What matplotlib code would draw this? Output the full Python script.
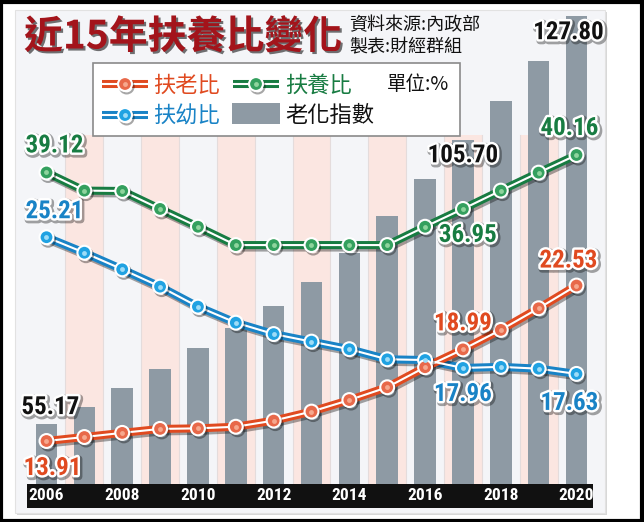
import matplotlib
matplotlib.use("Agg")
import matplotlib.pyplot as plt
import matplotlib.patheffects as pe
from matplotlib.patches import Rectangle

# data
years = list(range(2006, 2021))
aging_index = [55.17, 58.13, 61.51, 65.05, 68.64, 72.20, 76.21, 80.51,
               85.70, 92.18, 98.86, 105.70, 112.64, 119.82, 127.80]
elderly_ratio = [13.91, 14.13, 14.36, 14.58, 14.61, 14.70, 15.04, 15.54,
                 16.18, 16.89, 18.00, 18.99, 20.07, 21.27, 22.53]
youth_ratio = [25.21, 24.35, 23.43, 22.47, 21.36, 20.47, 19.84, 19.42,
               19.00, 18.44, 18.40, 17.96, 18.02, 17.92, 17.63]
total_ratio = [39.12, 38.04, 38.02, 36.95, 35.89, 34.80, 34.80, 34.80,
               34.80, 34.80, 35.89, 36.95, 38.04, 39.11, 40.16]
tick_years = [2006, 2008, 2010, 2012, 2014, 2016, 2018, 2020]
label_years = [2006, 2017, 2020]

title = "近15年扶養比變化"
source_lines = ["資料來源:內政部", "製表:財經群組"]

CJK = ["Noto Sans CJK TC", "DejaVu Sans"]
NUM = ["Roboto Condensed", "Liberation Sans Narrow", "DejaVu Sans"]

ORANGE, ORANGE_FILL, ORANGE_HI = "#e04a20", "#e8694a", "#f6a88e"
GREEN, GREEN_FILL, GREEN_HI = "#187c42", "#34a05e", "#8fd49d"
BLUE, BLUE_FILL, BLUE_HI = "#1983c6", "#20a2e2", "#9ddcf7"
BAR = "#8e9aa4"
PINK = "#fbe6e1"
PANEL = "#f4f5f8"

W, H = 644, 522
fig = plt.figure(figsize=(W / 100, H / 100), dpi=100)
fig.patch.set_facecolor("white")

# background: black frame + light panel
bg = fig.add_axes([0, 0, 1, 1], zorder=0)
bg.set_xlim(0, W)
bg.set_ylim(H, 0)
bg.axis("off")
bg.add_patch(Rectangle((1.5, 1.5), W - 3, H - 3, fill=False, ec="black", lw=3))
bg.add_patch(Rectangle((17, 12), 590, 503, fc="#d8d8d8", ec="none"))
bg.add_patch(Rectangle((15, 10), 590, 503, fc=PANEL, ec="#e2e2e2", lw=0.8))

# chart axes (pixel box x 27..593, y 10..484)
ax = fig.add_axes([27 / W, 38 / H, 566 / W, 474 / H], zorder=1)
ax.patch.set_visible(False)
ax.set_xlim(2005.485, 2020.436)
ax.set_ylim(44.5, 128.9)
ax.axis("off")

stripe_top = (484 - 135) / 474
for yr in years:
    if yr % 2 == 1:
        ax.axvspan(yr - 0.5, yr + 0.5, ymin=0, ymax=stripe_top, fc=PINK, ec="none", zorder=0)
    if yr < 2020:
        ax.axvline(yr + 0.5, ymin=0, ymax=stripe_top, color="#e4dcdc", lw=0.8, zorder=0.5)

ax.bar(years, [v - 44.5 for v in aging_index], bottom=44.5, width=0.57,
       color=BAR, zorder=1)

# black year band under the plot
band_h = 24 / 474
ax.add_patch(Rectangle((0, -band_h), 1, band_h, transform=ax.transAxes,
                       fc="#111111", ec="none", clip_on=False))
for yr in tick_years:
    ax.text(yr, -band_h / 2, str(yr), transform=ax.get_xaxis_transform(),
            ha="center", va="center", color="white", fontsize=12.5,
            fontweight="bold", family=NUM, fontstretch="condensed")

ax_lines = ax.twinx()
ax_lines.set_ylim(11.525, 37.81)
ax_lines.axis("off")
ax_green = ax.twinx()
ax_green.set_ylim(20.58, 48.79)
ax_green.axis("off")

shadow = [pe.SimpleLineShadow(offset=(1.2, -1.8), shadow_color="black", alpha=0.35),
          pe.Normal()]


def draw_series(axis, xs, ys, line, fill, hi):
    axis.plot(xs, ys, color=line, lw=5.8, solid_joinstyle="round",
              path_effects=shadow, zorder=2)
    axis.plot(xs, ys, color="white", lw=1.5, zorder=3)
    axis.plot(xs, ys, "o", ms=10, mfc=fill, mec="white", mew=1.5,
              path_effects=shadow, zorder=4)
    axis.plot(xs, ys, "o", ms=3.5, mfc=hi, mec="none", zorder=5)


draw_series(ax_lines, years, youth_ratio, BLUE, BLUE_FILL, BLUE_HI)
draw_series(ax_lines, years, elderly_ratio, ORANGE, ORANGE_FILL, ORANGE_HI)
draw_series(ax_green, years, total_ratio, GREEN, GREEN_FILL, GREEN_HI)

label_fx = [pe.Stroke(linewidth=5, foreground=(0, 0, 0, 0.35), offset=(1, -1.2)),
            pe.Stroke(linewidth=3.5, foreground="white"), pe.Normal()]


def value_label(data_ax, yr, series, color, off):
    v = series[years.index(yr)]
    ax_green.annotate(f"{v:.2f}", xy=(yr, v), xycoords=data_ax.transData,
                      xytext=off, textcoords="offset pixels", ha="center",
                      va="center", fontsize=18, fontweight="bold", family=NUM,
                      fontstretch="condensed", color=color,
                      path_effects=label_fx, zorder=10, annotation_clip=False)


offsets = {
    "total": [(8, 27), (5, -26), (-7, 27)],
    "youth": [(8, 26), (0, -26), (-7, -29)],
    "elderly": [(6, -27), (0, 26), (-8, 25)],
    "aging": [(4, 17), (0, -15), (-8, -16)],
}
for yr, off in zip(label_years, offsets["total"]):
    value_label(ax_green, yr, total_ratio, GREEN, off)
for yr, off in zip(label_years, offsets["youth"]):
    value_label(ax_lines, yr, youth_ratio, BLUE, off)
for yr, off in zip(label_years, offsets["elderly"]):
    value_label(ax_lines, yr, elderly_ratio, ORANGE, off)
for yr, off in zip(label_years, offsets["aging"]):
    value_label(ax, yr, aging_index, "#111111", off)

# overlay: title, source, legend (pixel coordinates)
ov = fig.add_axes([0, 0, 1, 1], zorder=5)
ov.patch.set_visible(False)
ov.set_xlim(0, W)
ov.set_ylim(H, 0)
ov.axis("off")

ov.text(24, 37, title, ha="left", va="center", fontsize=28, fontweight="heavy",
        family=CJK, color="#a3141b",
        path_effects=[pe.withSimplePatchShadow(offset=(1.5, -1.5), shadow_rgbFace="black", alpha=0.55)])
ov.text(349, 25, source_lines[0], ha="left", va="center", fontsize=13, family=CJK, color="#111111")
ov.text(349, 47, source_lines[1], ha="left", va="center", fontsize=13, family=CJK, color="#111111")

ov.add_patch(Rectangle((93, 63), 367, 73, fc="white", ec="#8a8a8a", lw=1.2))


def legend_icon(x0, y, line, fill, hi):
    xs = [x0, x0 + 46]
    ov.plot(xs, [y, y], color=line, lw=5.8, solid_capstyle="butt", zorder=2)
    ov.plot(xs, [y, y], color="white", lw=1.5, zorder=3)
    ov.plot([x0 + 23], [y], "o", ms=10, mfc=fill, mec="white", mew=1.5,
            path_effects=shadow, zorder=4)
    ov.plot([x0 + 23], [y], "o", ms=3.5, mfc=hi, mec="none", zorder=5)


legend_icon(102, 84, ORANGE, ORANGE_FILL, ORANGE_HI)
ov.text(153, 85, "扶老比", ha="left", va="center", fontsize=16, family=CJK, color=ORANGE)
legend_icon(233, 84, GREEN, GREEN_FILL, GREEN_HI)
ov.text(285, 85, "扶養比", ha="left", va="center", fontsize=16, family=CJK, color=GREEN)
ov.text(387, 85, "單位:%", ha="left", va="center", fontsize=14, family=CJK, color="#111111")
legend_icon(102, 115, BLUE, BLUE_FILL, BLUE_HI)
ov.text(153, 116, "扶幼比", ha="left", va="center", fontsize=16, family=CJK, color=BLUE)
ov.add_patch(Rectangle((232, 103), 48, 21, fc=BAR, ec="none"))
ov.text(285, 116, "老化指數", ha="left", va="center", fontsize=16, family=CJK, color="#111111")

fig.savefig("out.png", dpi=100)
